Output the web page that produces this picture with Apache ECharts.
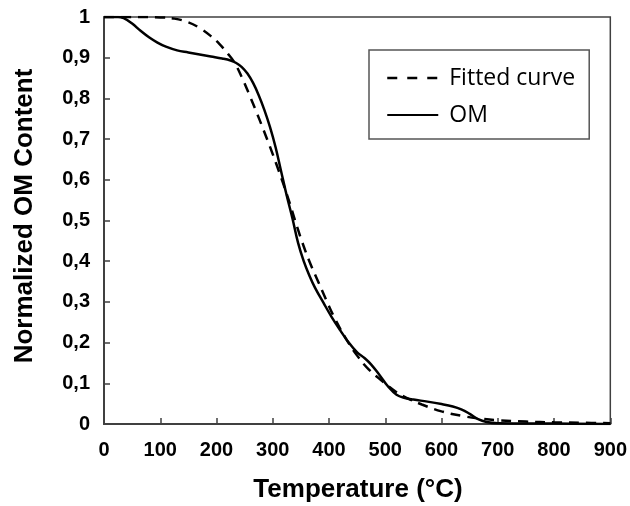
<!DOCTYPE html>
<html>
<head>
<meta charset="utf-8">
<script src="https://cdn.jsdelivr.net/npm/echarts@6/dist/echarts.min.js"></script>
<style>html,body{margin:0;padding:0;background:#fff;}#c{width:630px;height:506px;}</style>
</head>
<body>
<div id="c"></div>
<script>
// Temperature (°C) and normalized OM content for the measured curve
const omTemp = [0, 25, 35, 50, 65, 80, 95, 110, 130, 150, 170, 190, 210, 225, 235, 245, 255, 265, 275, 285, 295, 305, 315, 325, 335, 345, 355, 365, 375, 390, 405, 420, 435, 450, 463, 475, 490, 505, 520, 535, 550, 575, 600, 620, 635, 650, 665, 680, 700, 800, 900];
const omValue = [1.0, 1.0, 0.997, 0.984, 0.966, 0.950, 0.937, 0.927, 0.918, 0.913, 0.908, 0.903, 0.898, 0.893, 0.887, 0.877, 0.861, 0.838, 0.808, 0.772, 0.73, 0.68, 0.62, 0.56, 0.505, 0.445, 0.40, 0.365, 0.335, 0.298, 0.262, 0.23, 0.20, 0.176, 0.162, 0.146, 0.12, 0.092, 0.072, 0.064, 0.06, 0.055, 0.049, 0.043, 0.036, 0.025, 0.012, 0.005, 0.002, 0.001, 0.0];
// Fitted curve
const fitTemp = [0, 60, 100, 125, 150, 170, 190, 205, 220, 232, 245, 258, 270, 282, 294, 306, 318, 330, 342, 352, 365, 380, 395, 410, 430, 450, 470, 495, 520, 540, 565, 600, 640, 670, 700, 750, 800, 850, 900];
const fitValue = [1.0, 1.0, 0.999, 0.996, 0.987, 0.973, 0.953, 0.934, 0.91, 0.888, 0.852, 0.81, 0.77, 0.728, 0.685, 0.64, 0.593, 0.543, 0.49, 0.448, 0.4, 0.352, 0.305, 0.26, 0.21, 0.168, 0.135, 0.105, 0.078, 0.063, 0.048, 0.031, 0.019, 0.013, 0.009, 0.006, 0.004, 0.003, 0.002];
const yTickLabels = ['0', '0,1', '0,2', '0,3', '0,4', '0,5', '0,6', '0,7', '0,8', '0,9', '1'];
const xTickLabels = ['0', '100', '200', '300', '400', '500', '600', '700', '800', '900'];
const seriesNames = ['Fitted curve', 'OM'];
const xTitle = 'Temperature (°C)';
const yTitle = 'Normalized OM Content';

const zip = (a, b) => a.map((v, i) => [v, b[i]]);
const labelFont = {color: '#000', fontFamily: 'Liberation Sans, Arial, sans-serif', fontWeight: 'bold', fontSize: 20};
const axisCol = '#404040';

const chart = echarts.init(document.getElementById('c'), null, {renderer: 'canvas'});
chart.setOption({
  animation: false,
  backgroundColor: '#fff',
  grid: {left: 104, top: 17, right: 19, bottom: 82, show: true, borderColor: axisCol, borderWidth: 1.5, containLabel: false},
  xAxis: {
    type: 'value', min: 0, max: 900, interval: 100,
    axisLine: {show: true, lineStyle: {color: axisCol, width: 2}},
    axisTick: {show: true, inside: true, length: 6, lineStyle: {color: axisCol, width: 1.5}},
    splitLine: {show: false},
    axisLabel: Object.assign({margin: 16, formatter: (v) => xTickLabels[Math.round(v / 100)]}, labelFont)
  },
  yAxis: {
    type: 'value', min: 0, max: 1, interval: 0.1,
    axisLine: {show: true, lineStyle: {color: axisCol, width: 2}},
    axisTick: {show: true, inside: true, length: 6, lineStyle: {color: axisCol, width: 1.5}},
    splitLine: {show: false},
    axisLabel: Object.assign({margin: 14, formatter: (v) => yTickLabels[Math.round(v * 10)]}, labelFont)
  },
  legend: {
    orient: 'vertical', left: 369, top: 50,
    data: [
      {name: seriesNames[0], lineStyle: {type: [10, 10], width: 2.5}},
      {name: seriesNames[1]}
    ],
    itemWidth: 51, itemHeight: 20, itemGap: 11,
    padding: [15, 14, 11, 17],
    borderColor: '#555', borderWidth: 1.5,
    itemStyle: {opacity: 0},
    textStyle: {fontFamily: 'Open Sans, sans-serif', fontSize: 23, color: '#000', lineHeight: 26, padding: [0, 0, 0, 6]}
  },
  graphic: [
    {type: 'text', x: 358, y: 490, style: {text: xTitle, align: 'center', verticalAlign: 'middle', fontFamily: 'Liberation Sans, Arial, sans-serif', fontWeight: 'bold', fontSize: 26, fill: '#000'}},
    {type: 'text', x: 25, y: 216, rotation: Math.PI / 2, style: {text: yTitle, align: 'center', verticalAlign: 'middle', fontFamily: 'Liberation Sans, Arial, sans-serif', fontWeight: 'bold', fontSize: 26, fill: '#000'}}
  ],
  series: [
    {name: seriesNames[0], type: 'line', data: zip(fitTemp, fitValue), showSymbol: false, symbol: 'none', smooth: 0.4,
     lineStyle: {color: '#000', width: 2.5, type: [10, 7]}, itemStyle: {color: '#000'}},
    {name: seriesNames[1], type: 'line', data: zip(omTemp, omValue), showSymbol: false, symbol: 'none', smooth: 0.4,
     lineStyle: {color: '#000', width: 2.5, type: 'solid'}, itemStyle: {color: '#000'}}
  ]
});
</script>
</body>
</html>
